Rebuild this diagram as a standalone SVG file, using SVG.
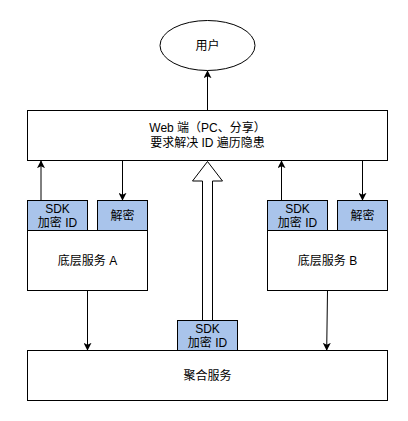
<svg xmlns="http://www.w3.org/2000/svg" width="408" height="421" viewBox="0 0 408 421">
<style>
.box{fill:#ffffff;stroke:#000000;stroke-width:1}
.sdk{fill:#A9C4EB;stroke:#000000;stroke-width:1}
.t{font-family:"Liberation Sans","Noto Sans CJK SC",sans-serif;font-size:12px;fill:#000000;text-anchor:middle}
.ln{fill:none;stroke:#000000;stroke-width:1}
</style>
<defs>
<marker id="arr" viewBox="0 0 10 10" refX="9" refY="5" markerWidth="8" markerHeight="8" markerUnits="userSpaceOnUse" orient="auto">
<path d="M0,0 L10,5 L0,10 L2.5,5 Z" fill="#000000"/>
</marker>
</defs>
<rect width="408" height="421" fill="#ffffff"/>
<g id="connectors">
<line class="ln" x1="207.5" y1="110.5" x2="207.5" y2="71" marker-end="url(#arr)"/>
<line class="ln" x1="41" y1="200.5" x2="41" y2="161" marker-end="url(#arr)"/>
<line class="ln" x1="122.5" y1="160.5" x2="122.5" y2="200" marker-end="url(#arr)"/>
<line class="ln" x1="281.5" y1="200.5" x2="281.5" y2="161" marker-end="url(#arr)"/>
<line class="ln" x1="362.5" y1="160.5" x2="362.5" y2="200" marker-end="url(#arr)"/>
<line class="ln" x1="87.5" y1="290.5" x2="87.5" y2="350" marker-end="url(#arr)"/>
<line class="ln" x1="327.5" y1="290.5" x2="326.7" y2="350" marker-end="url(#arr)"/>
<path class="box" d="M202.5,320.5 L202.5,181 L192.5,181 L207.5,161.5 L222.5,181 L212.5,181 L212.5,320.5 Z"/>
</g>
<g id="user">
<ellipse class="box" cx="207.5" cy="45.5" rx="47.5" ry="25"/>
<text class="t" x="207.5" y="50">用户</text>
</g>
<g id="web">
<rect class="box" x="27.5" y="110.5" width="360" height="50"/>
<text class="t" x="207.5" y="132">Web 端（PC、分享）</text>
<text class="t" x="207.5" y="147">要求解决 ID 遍历隐患</text>
</g>
<g id="serviceA">
<rect class="box" x="27.5" y="230.5" width="120" height="60"/>
<text class="t" x="87.5" y="265">底层服务 A</text>
</g>
<g id="sdkA">
<rect class="sdk" x="27.5" y="200.5" width="60" height="30"/>
<text class="t" x="57.5" y="213">SDK</text>
<text class="t" x="57.5" y="226.5">加密 ID</text>
</g>
<g id="decryptA">
<rect class="sdk" x="97.5" y="200.5" width="50" height="30"/>
<text class="t" x="122.5" y="220">解密</text>
</g>
<g id="serviceB">
<rect class="box" x="267.5" y="230.5" width="120" height="60"/>
<text class="t" x="327.5" y="265">底层服务 B</text>
</g>
<g id="sdkB">
<rect class="sdk" x="267.5" y="200.5" width="60" height="30"/>
<text class="t" x="297.5" y="213">SDK</text>
<text class="t" x="297.5" y="226.5">加密 ID</text>
</g>
<g id="decryptB">
<rect class="sdk" x="337.5" y="200.5" width="50" height="30"/>
<text class="t" x="362.5" y="220">解密</text>
</g>
<g id="aggregate">
<rect class="box" x="27.5" y="350.5" width="360" height="50"/>
<text class="t" x="207.5" y="380">聚合服务</text>
</g>
<g id="sdkC">
<rect class="sdk" x="177.5" y="320.5" width="60" height="30"/>
<text class="t" x="207.5" y="333">SDK</text>
<text class="t" x="207.5" y="346.5">加密 ID</text>
</g>
</svg>
